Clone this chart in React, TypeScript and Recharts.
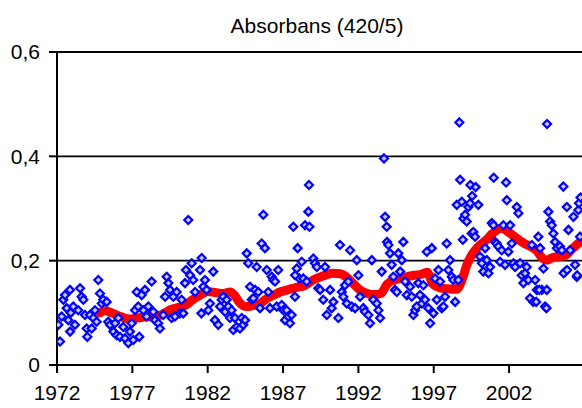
import React from 'react';
import { ComposedChart, Scatter, Line, XAxis, YAxis, CartesianGrid } from 'recharts';

// single measurements (decimal year, absorbance)
const sampleYears = [
  1972.09, 1972.2, 1972.31, 1972.42, 1972.53, 1972.64, 1972.75, 1972.86, 1972.91, 1972.87,
  1973.08, 1973.19, 1973.41, 1973.53, 1973.64, 1973.75, 1973.86, 1973.97, 1974.01, 1974.19,
  1974.3, 1974.41, 1974.52, 1974.63, 1974.74, 1974.85, 1974.97, 1975.07, 1975.3, 1975.4,
  1975.52, 1975.74, 1975.85, 1975.96, 1976.07, 1976.18, 1976.4, 1976.51, 1976.73, 1976.84,
  1976.96, 1977.06, 1977.18, 1977.29, 1977.39, 1977.46, 1977.62, 1977.73, 1977.84, 1977.95,
  1978.06, 1978.28, 1978.39, 1978.5, 1978.72, 1978.83, 1979.05, 1979.17, 1979.28, 1979.39,
  1979.5, 1979.61, 1979.72, 1979.83, 1979.94, 1980.16, 1980.27, 1980.38, 1980.49, 1980.56,
  1980.71, 1980.83, 1980.94, 1981.04, 1981.16, 1981.49, 1981.6, 1981.71, 1981.82, 1981.93,
  1981.58, 1982.04, 1982.15, 1982.37, 1982.48, 1982.7, 1982.82, 1982.93, 1983.04, 1983.15,
  1983.26, 1983.37, 1983.48, 1983.59, 1983.7, 1983.81, 1983.92, 1984.14, 1984.26, 1984.36,
  1984.48, 1984.59, 1984.69, 1984.81, 1984.92, 1985.03, 1985.14, 1985.25, 1985.36, 1985.47,
  1985.58, 1985.69, 1985.8, 1985.92, 1986.02, 1986.13, 1986.25, 1986.35, 1986.47, 1986.58,
  1986.68, 1986.91, 1987.02, 1987.13, 1987.24, 1987.35, 1987.46, 1987.57, 1987.68, 1987.79,
  1987.91, 1987.97, 1988.08, 1988.68, 1988.46, 1988.75, 1988.24, 1987.8, 1988.35, 1988.57,
  1988.72, 1989.01, 1989.12, 1989.24, 1989.34, 1989.46, 1989.67, 1989.79, 1989.9, 1990.12,
  1990.23, 1990.34, 1990.67, 1990.78, 1990.9, 1991.0, 1991.11, 1991.23, 1991.33, 1991.45,
  1991.56, 1991.78, 1991.89, 1992.0, 1992.11, 1992.33, 1992.44, 1992.66, 1992.77, 1992.89,
  1992.99, 1993.22, 1993.33, 1993.44, 1993.55, 1993.7, 1993.77, 1993.88, 1993.9, 1993.99,
  1994.1, 1994.21, 1994.32, 1994.43, 1994.55, 1994.65, 1994.77, 1994.88, 1994.98, 1995.1,
  1995.21, 1995.43, 1995.54, 1995.65, 1995.76, 1995.87, 1995.98, 1996.09, 1996.21, 1996.31,
  1996.42, 1996.54, 1996.64, 1996.76, 1996.87, 1996.98, 1997.09, 1997.2, 1997.31, 1997.42,
  1997.53, 1997.64, 1997.75, 1997.86, 1997.97, 1998.08, 1998.2, 1998.3, 1998.42, 1998.53,
  1998.63, 1998.7, 1998.75, 1998.86, 1998.93, 1998.97, 1999.08, 1999.19, 1999.3, 1999.41,
  1999.43, 1999.52, 1999.55, 1999.63, 1999.74, 1999.78, 1999.96, 2000.07, 2000.19, 2000.29,
  2000.41, 2000.52, 2000.63, 2000.74, 2000.85, 2000.96, 2000.98, 2001.07, 2001.18, 2001.29,
  2001.4, 2001.51, 2001.62, 2001.73, 2001.8, 2001.85, 2001.95, 2002.07, 2002.18, 2002.29,
  2002.4, 2002.51, 2002.62, 2002.73, 2002.84, 2002.95, 2003.06, 2003.17, 2003.28, 2003.39,
  2003.51, 2003.61, 2003.73, 2003.84, 2003.94, 2004.06, 2004.17, 2004.28, 2004.39, 2004.5,
  2004.52, 2004.61, 2004.72, 2004.83, 2004.94, 2005.05, 2005.17, 2005.38, 2005.5, 2005.6,
  2005.72, 2005.83, 2005.94, 2006.05, 2006.27, 2006.38, 2006.49, 2006.6, 2006.64, 2006.71,
  2006.74, 2005.62, 2005.85, 2006.52, 2004.48, 2003.8, 2004.0,
];

const sampleValues = [
  0.077, 0.045, 0.093, 0.125, 0.134, 0.109, 0.086, 0.144, 0.1, 0.064,
  0.112, 0.077, 0.105, 0.147, 0.131, 0.125, 0.096, 0.07, 0.054, 0.096,
  0.07, 0.09, 0.105, 0.083, 0.163, 0.137, 0.118, 0.125, 0.121, 0.083,
  0.077, 0.064, 0.08, 0.057, 0.09, 0.054, 0.073, 0.051, 0.042, 0.064,
  0.08, 0.048, 0.105, 0.14, 0.112, 0.054, 0.134, 0.105, 0.144, 0.093,
  0.112, 0.16, 0.102, 0.086, 0.08, 0.07, 0.096, 0.131, 0.169, 0.157,
  0.144, 0.09, 0.131, 0.093, 0.14, 0.099, 0.125, 0.099, 0.157, 0.182,
  0.278, 0.172, 0.195, 0.163, 0.14, 0.182, 0.205, 0.15, 0.163, 0.144,
  0.099, 0.105, 0.118, 0.179, 0.086, 0.077, 0.112, 0.125, 0.131, 0.102,
  0.125, 0.112, 0.09, 0.105, 0.067, 0.09, 0.073, 0.07, 0.09, 0.077,
  0.086, 0.214, 0.195, 0.15, 0.125, 0.128, 0.144, 0.188, 0.14, 0.109,
  0.233, 0.288, 0.224, 0.182, 0.14, 0.109, 0.169, 0.163, 0.16, 0.112,
  0.182, 0.115, 0.105, 0.086, 0.105, 0.093, 0.08, 0.096, 0.265, 0.131,
  0.185, 0.224, 0.166, 0.294, 0.268, 0.265, 0.198, 0.172, 0.166, 0.16,
  0.345, 0.204, 0.195, 0.188, 0.147, 0.144, 0.125, 0.188, 0.096, 0.144,
  0.109, 0.121, 0.09, 0.23, 0.14, 0.131, 0.153, 0.118, 0.16, 0.22,
  0.112, 0.109, 0.201, 0.172, 0.131, 0.109, 0.102, 0.096, 0.08, 0.201,
  0.125, 0.118, 0.105, 0.09, 0.179, 0.396, 0.284, 0.265, 0.236, 0.23,
  0.214, 0.192, 0.169, 0.144, 0.14, 0.214, 0.179, 0.201, 0.236, 0.16,
  0.134, 0.15, 0.131, 0.096, 0.105, 0.112, 0.157, 0.134, 0.118, 0.153,
  0.125, 0.217, 0.109, 0.08, 0.224, 0.099, 0.166, 0.125, 0.182, 0.16,
  0.109, 0.112, 0.131, 0.233, 0.182, 0.201, 0.169, 0.163, 0.121, 0.307,
  0.163, 0.465, 0.355, 0.313, 0.24, 0.281, 0.288, 0.275, 0.303, 0.31,
  0.345, 0.252, 0.324, 0.255, 0.246, 0.341, 0.307, 0.208, 0.195, 0.179,
  0.224, 0.201, 0.176, 0.188, 0.272, 0.268, 0.359, 0.236, 0.233, 0.227,
  0.198, 0.22, 0.268, 0.192, 0.35, 0.316, 0.217, 0.268, 0.233, 0.195,
  0.188, 0.303, 0.291, 0.195, 0.172, 0.157, 0.176, 0.188, 0.163, 0.128,
  0.23, 0.121, 0.163, 0.144, 0.246, 0.224, 0.144, 0.185, 0.112, 0.144,
  0.462, 0.294, 0.275, 0.268, 0.252, 0.236, 0.224, 0.227, 0.22, 0.342,
  0.179, 0.303, 0.259, 0.22, 0.284, 0.192, 0.169, 0.297, 0.31, 0.246,
  0.321, 0.176, 0.182, 0.172, 0.109, 0.121, 0.144,
];

// running mean
const meanYears = [
  1974.85, 1975.2, 1975.7, 1976.2, 1976.8, 1977.3, 1977.8, 1978.3, 1978.8, 1979.1,
  1979.6, 1980.0, 1980.5, 1981.0, 1981.5, 1982.0, 1982.5, 1983.0, 1983.5, 1983.8,
  1984.1, 1984.6, 1985.1, 1985.5, 1985.9, 1986.4, 1986.8, 1987.3, 1987.9, 1988.4,
  1989.0, 1989.6, 1990.3, 1990.8, 1991.2, 1991.7, 1992.1, 1992.6, 1993.0, 1993.5,
  1993.9, 1994.4, 1994.8, 1995.3, 1995.7, 1996.2, 1996.55, 1996.95, 1997.4, 1997.9,
  1998.5, 1998.9, 1999.2, 1999.5, 2000.0, 2000.5, 2000.9, 2001.5, 2002.0, 2002.5,
  2003.0, 2003.5, 2003.85, 2004.2, 2004.5, 2004.9, 2005.3, 2005.7, 2006.2, 2006.9,
  2007.2,
];

const meanValues = [
  0.1, 0.104, 0.099, 0.093, 0.088, 0.09, 0.092, 0.093, 0.095, 0.099,
  0.107, 0.11, 0.114, 0.125, 0.134, 0.141, 0.139, 0.137, 0.14, 0.133,
  0.12, 0.112, 0.115, 0.118, 0.127, 0.134, 0.14, 0.144, 0.149, 0.152,
  0.163, 0.17, 0.176, 0.175, 0.169, 0.155, 0.144, 0.137, 0.135, 0.137,
  0.155, 0.163, 0.166, 0.17, 0.172, 0.174, 0.178, 0.155, 0.148, 0.146,
  0.145, 0.165, 0.192, 0.21, 0.228, 0.24, 0.252, 0.262, 0.254, 0.243,
  0.233, 0.226, 0.219, 0.205, 0.201, 0.206, 0.208, 0.21, 0.223, 0.24,
  0.245,
];

const xTicks = [1972, 1977, 1982, 1987, 1992, 1997, 2002];
const yTicks = [0, 0.2, 0.4, 0.6];

const samples = sampleYears.map((x, i) => ({ x, v: sampleValues[i] }));
const runningMean = meanYears.map((x, i) => ({ x, v: meanValues[i] }));

const font = { fontFamily: '"Liberation Sans", Arial, sans-serif', fontSize: 21, fill: '#000' };

const Diamond = (props: any) => {
  const { cx, cy } = props;
  if (cx == null || cy == null) return null;
  const r = 4;
  return (
    <polygon
      points={`${cx},${cy - r} ${cx + r},${cy} ${cx},${cy + r} ${cx - r},${cy}`}
      fill="#c8c8ff"
      stroke="#0000ff"
      strokeWidth={2.2}
    />
  );
};

export default function App() {
  return (
    <div style={{ position: 'fixed', left: 0, top: 0, width: 582, height: 408, overflow: 'hidden', background: '#fff' }}>
      <div
        style={{
          position: 'absolute',
          left: 0,
          top: 15,
          width: 634,
          textAlign: 'center',
          fontFamily: font.fontFamily,
          fontSize: 21,
          lineHeight: '21px',
          color: '#000',
        }}
      >
        Absorbans (420/5)
      </div>
      <div style={{ position: 'absolute', left: 0, top: 0 }}>
        <ComposedChart width={640} height={408} margin={{ top: 52, right: 40.5, bottom: 13, left: 0 }}>
          <CartesianGrid horizontal vertical={false} stroke="#000" strokeWidth={1.8} horizontalValues={[0.2, 0.4, 0.6]} />
          <XAxis
            type="number"
            dataKey="x"
            domain={[1972, 2008]}
            ticks={xTicks}
            interval={0}
            height={30}
            tickSize={8}
            tickMargin={12}
            axisLine={{ stroke: '#000', strokeWidth: 2 }}
            tickLine={{ stroke: '#000', strokeWidth: 2 }}
            tick={font}
            allowDataOverflow
          />
          <YAxis
            type="number"
            dataKey="v"
            domain={[0, 0.6]}
            ticks={yTicks}
            interval={0}
            width={57}
            tickSize={8}
            tickMargin={9}
            axisLine={{ stroke: '#000', strokeWidth: 2 }}
            tickLine={{ stroke: '#000', strokeWidth: 2 }}
            tick={font}
            tickFormatter={(v: number) => (v === 0 ? '0' : v.toFixed(1).replace('.', ','))}
          />
          <Scatter data={samples} dataKey="v" shape={<Diamond />} isAnimationActive={false} />
          <Line
            data={runningMean}
            dataKey="v"
            type="monotone"
            stroke="#ff0000"
            strokeWidth={9}
            strokeLinecap="round"
            strokeLinejoin="round"
            dot={false}
            activeDot={false}
            isAnimationActive={false}
          />
        </ComposedChart>
      </div>
    </div>
  );
}
